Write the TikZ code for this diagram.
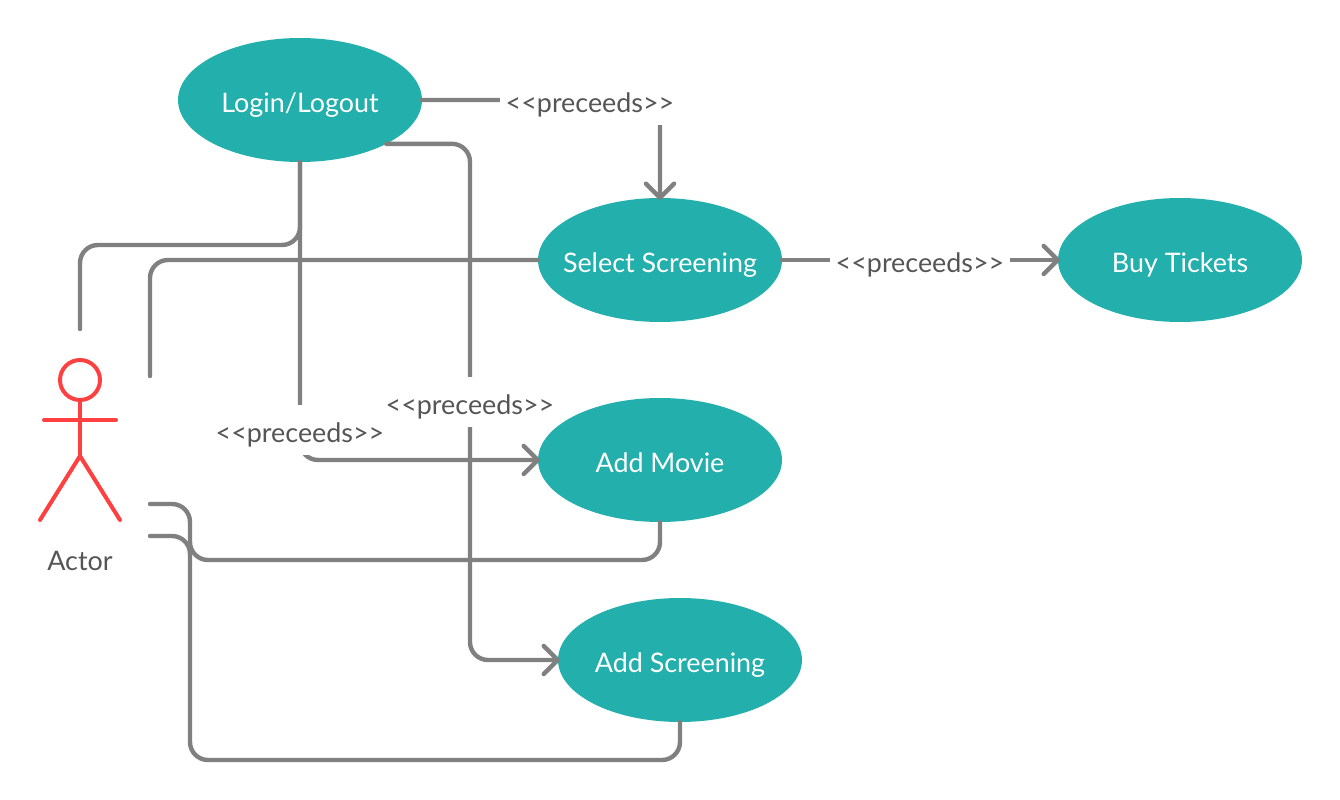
\documentclass[tikz,border=0pt]{standalone}
\usepackage{fontspec}
\setmainfont{Lato}
\usetikzlibrary{shapes.geometric, arrows.meta}
\definecolor{caseteal}{RGB}{35,175,172}
\definecolor{linegray}{RGB}{128,128,128}
\definecolor{textgray}{RGB}{85,85,85}
\definecolor{actorred}{RGB}{255,64,64}

\begin{document}
\begin{tikzpicture}[
        x=0.02cm, y=-0.02cm,
        labelfont/.style={font=\fontsize{15.3}{18}\selectfont, text height=16pt, text depth=1.5pt},
        usecase/.style={ellipse, fill=caseteal, text=white, labelfont, minimum width=4.88cm, minimum height=2.48cm, inner xsep=-1cm, inner ysep=0pt, outer sep=0pt},
        conn/.style={draw=linegray, line width=2.5pt, line cap=round, rounded corners=0.36cm},
        arrow/.style={conn, shorten >=-1.1pt, -{Straight Barb[length=8pt, width=16pt, round]}},
        stereo/.style={fill=white, text=textgray, labelfont, minimum width=3.6cm, minimum height=1cm, inner sep=0pt, outer sep=0pt},
        limb/.style={draw=actorred, line width=2.27pt, line cap=round}
    ]
        \useasboundingbox (0, 0) rectangle (1340, 800);

        % Use cases
        \node[usecase] (login) at (300, 100) {Login/Logout};
        \node[usecase] (select) at (660, 260) {Select Screening};
        \node[usecase] (buy) at (1180, 260) {Buy Tickets};
        \node[usecase] (movie) at (660, 460) {Add Movie};
        \node[usecase] (screening) at (680, 660) {Add Screening};

        % Actor
        \node[circle, draw=actorred, line width=2.27pt, minimum size=0.8cm, inner sep=0pt, outer sep=0pt] (head) at (80, 380) {};
        \coordinate (hip) at (80, 456);
        \coordinate (handl) at (44, 420);
        \coordinate (handr) at (116, 420);
        \coordinate (footl) at (40, 520);
        \coordinate (footr) at (120, 520);
        \draw[limb] (head.south) -- (hip);
        \draw[limb] (handl) -- (handr);
        \draw[limb] (footl) -- (hip) -- (footr);
        \node[text=textgray, font=\fontsize{15.3}{18}\selectfont] (actor) at (80, 561) {Actor};

        % Free ends beside the actor
        \coordinate (a1) at (80, 329);
        \coordinate (a2) at (150, 376);
        \coordinate (a3) at (150, 504);
        \coordinate (a4) at (150, 536);
        \coordinate (j1) at (300, 245);
        \coordinate (j2) at (470, 660);
        \coordinate (j3) at (190, 560);
        \coordinate (j4) at (190, 760);

        % Actor links
        \draw[conn] (a1) |- (j1) -- (login.south);
        \draw[conn] (a2) |- (select.west);
        \draw[conn] (a3) -| (j3) -| (movie.south);
        \draw[conn] (a4) -| (j4) -| (screening.south);

        % Preceeds links
        \draw[arrow] (login.east) -| (select.north);
        \draw[arrow] (select.east) -- (buy.west);
        \draw[arrow] (login.south) |- (movie.west);
        \draw[arrow] (login.south east) -| (j2) -- (screening.west);

        % Labels over the links
        \node[stereo] (p1) at (590, 100) {<{}<preceeds>{}>};
        \node[stereo] (p2) at (920, 260) {<{}<preceeds>{}>};
        \node[stereo] (p3) at (300, 430) {<{}<preceeds>{}>};
        \node[stereo, minimum width=3.4cm] (p4) at (470, 402) {<{}<preceeds>{}>};
    \end{tikzpicture}
\end{document}
